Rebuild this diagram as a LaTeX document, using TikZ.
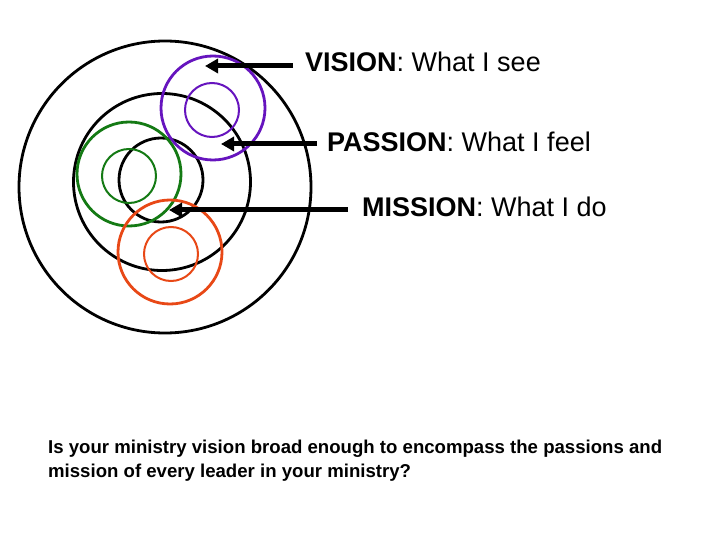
\documentclass[tikz,border=0pt]{standalone}
\usepackage{fontspec}
\setmainfont{Liberation Sans}
\usetikzlibrary{arrows.meta}
\definecolor{visionpurple}{RGB}{102,20,190}
\definecolor{passiongreen}{RGB}{20,122,20}
\definecolor{missionred}{RGB}{232,72,22}

\begin{document}
\begin{tikzpicture}[x=1pt, y=-1pt,
  ring/.style = {draw, circle, line width=2.8pt, inner sep=0pt},
  smallring/.style = {draw, circle, line width=2pt, inner sep=0pt},
  label/.style = {inner sep=0pt, anchor=base west, font=\fontsize{27}{30}\selectfont},
  pointer/.style = {line width=5pt, -{Triangle[length=13pt,width=14pt]}}]
\useasboundingbox (0,0) rectangle (720,540);
% black circles
\node[ring, minimum size=292pt] (outer) at (165,187) {};
\node[ring, minimum size=177pt] (middle) at (162,182) {};
\node[ring, minimum size=84pt] (inner) at (161,180) {};
% vision
\node[ring, visionpurple, minimum size=104pt] (visionbig) at (213,108) {};
\node[smallring, visionpurple, minimum size=54pt] (visionsmall) at (212,110) {};
% passion
\node[ring, passiongreen, minimum size=104pt] (passionbig) at (129,174) {};
\node[smallring, passiongreen, minimum size=54pt] (passionsmall) at (129,176) {};
% mission
\node[ring, missionred, minimum size=104pt] (missionbig) at (170,252) {};
\node[smallring, missionred, minimum size=54pt] (missionsmall) at (171,254) {};
% labels
\node[label] (vision) at (305,72) {\textbf{VISION}: What I see};
\node[label] (passion) at (327,152) {\textbf{PASSION}: What I feel};
\node[label] (mission) at (362,217) {\textbf{MISSION}: What I do};
\coordinate (visiontip) at (205,66);
\coordinate (passiontip) at (221,144);
\coordinate (missiontip) at (169,210);
\draw[pointer] ([xshift=-12pt,yshift=6pt]vision.base west) -- (visiontip);
\draw[pointer] ([xshift=-10pt,yshift=8pt]passion.base west) -- (passiontip);
\draw[pointer] ([xshift=-14pt,yshift=7pt]mission.base west) -- (missiontip);
% question
\node[inner sep=0pt, anchor=base west, align=left, font=\bfseries\fontsize{18.6}{24}\selectfont] (question) at (48,477)
  {Is your ministry vision broad enough to encompass the passions and\\mission of every leader in your ministry?};
\end{tikzpicture}
\end{document}
